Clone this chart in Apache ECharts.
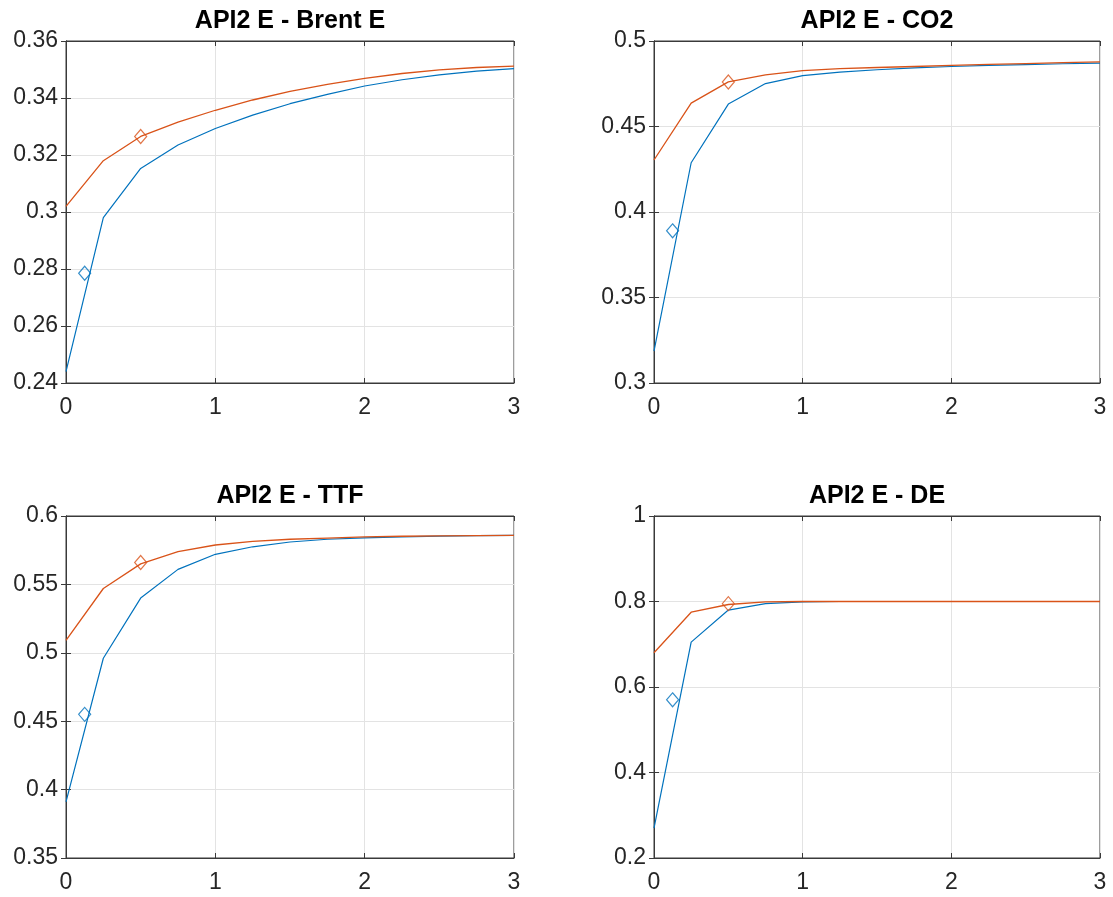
<!DOCTYPE html>
<html>
<head>
<meta charset="utf-8">
<script src="https://cdn.jsdelivr.net/npm/echarts@6/dist/echarts.min.js"></script>
<style>
html,body{margin:0;padding:0;background:#fff;}
#main{width:1113px;height:897px;}
</style>
</head>
<body>
<div id="main"></div>
<script>
// ---- data ----
const maturities = [0, 0.25, 0.5, 0.75, 1, 1.25, 1.5, 1.75, 2, 2.25, 2.5, 2.75, 3];
const xTicks = [0, 1, 2, 3];

const titles = ['API2 E - Brent E', 'API2 E - CO2', 'API2 E - TTF', 'API2 E - DE'];

const brentBlue   = [0.244, 0.298, 0.3153, 0.3235, 0.3293, 0.3340, 0.3380, 0.3413, 0.3442, 0.3464, 0.3481, 0.3494, 0.3503];
const brentOrange = [0.302, 0.318, 0.3265, 0.3315, 0.3357, 0.3393, 0.3423, 0.3448, 0.3469, 0.3486, 0.3499, 0.3507, 0.3512];
const co2Blue     = [0.3186, 0.4288, 0.4631, 0.4751, 0.4798, 0.4818, 0.4832, 0.4843, 0.4851, 0.4857, 0.4862, 0.4867, 0.4871];
const co2Orange   = [0.4304, 0.4637, 0.4761, 0.4802, 0.4827, 0.4838, 0.4845, 0.4851, 0.4857, 0.4863, 0.4868, 0.4873, 0.4878];
const ttfBlue     = [0.391, 0.496, 0.540, 0.561, 0.572, 0.5775, 0.581, 0.583, 0.584, 0.5848, 0.5853, 0.5856, 0.5858];
const ttfOrange   = [0.509, 0.547, 0.565, 0.574, 0.5788, 0.5815, 0.583, 0.5839, 0.5847, 0.5852, 0.5855, 0.5857, 0.5859];
const deBlue      = [0.270, 0.705, 0.780, 0.795, 0.799, 0.800, 0.800, 0.800, 0.800, 0.800, 0.800, 0.800, 0.800];
const deOrange    = [0.680, 0.775, 0.793, 0.799, 0.800, 0.800, 0.800, 0.800, 0.800, 0.800, 0.800, 0.800, 0.800];

// single highlighted points [x, y]
const brentBlueMark = [0.125, 0.2785], brentOrangeMark = [0.5, 0.3265];
const co2BlueMark   = [0.125, 0.389],  co2OrangeMark   = [0.5, 0.476];
const ttfBlueMark   = [0.125, 0.455],  ttfOrangeMark   = [0.5, 0.566];
const deBlueMark    = [0.125, 0.570],  deOrangeMark    = [0.5, 0.795];

const yMins = [0.24, 0.30, 0.35, 0.2];
const yMaxs = [0.36, 0.50, 0.60, 1.0];
const yIntervals = [0.02, 0.05, 0.05, 0.2];

// ---- chart ----
const BLUE = '#0072BD', ORANGE = '#D95319';
const FONT = 'Arial, "Liberation Sans", sans-serif';
const AX = '#3a3a3a', TXT = '#262626', GRIDC = '#e3e3e3';

const panels = [
  {blue: brentBlue, orange: brentOrange, bm: brentBlueMark, om: brentOrangeMark},
  {blue: co2Blue, orange: co2Orange, bm: co2BlueMark, om: co2OrangeMark},
  {blue: ttfBlue, orange: ttfOrange, bm: ttfBlueMark, om: ttfOrangeMark},
  {blue: deBlue, orange: deOrange, bm: deBlueMark, om: deOrangeMark}
];
const boxes = [
  {left: 66, top: 41, width: 448, height: 342},
  {left: 654, top: 41, width: 446, height: 342},
  {left: 66, top: 516, width: 448, height: 342},
  {left: 654, top: 516, width: 446, height: 342}
];

const grid = [], xAxis = [], yAxis = [], series = [], graphic = [];
const fmt = v => String(+(+v).toFixed(4));

boxes.forEach((b, i) => {
  grid.push({left: b.left, top: b.top, width: b.width, height: b.height,
    show: true, borderColor: AX, borderWidth: 1, backgroundColor: '#fff', containLabel: false});
  xAxis.push({gridIndex: i, type: 'value', position: 'bottom', min: 0, max: 3, interval: 1,
    axisLine: {show: true, lineStyle: {color: AX, width: 1}},
    axisTick: {show: true, inside: true, length: 5, lineStyle: {color: AX}},
    axisLabel: {color: TXT, fontSize: 23, fontFamily: FONT, margin: 13, formatter: fmt},
    splitLine: {show: true, lineStyle: {color: GRIDC, width: 1}}});
  xAxis.push({gridIndex: i, type: 'value', position: 'top', min: 0, max: 3, interval: 1,
    axisLine: {show: true, lineStyle: {color: AX, width: 1}},
    axisTick: {show: true, inside: true, length: 5, lineStyle: {color: AX}},
    axisLabel: {show: false}, splitLine: {show: false}});
  yAxis.push({gridIndex: i, type: 'value', position: 'left',
    min: yMins[i], max: yMaxs[i], interval: yIntervals[i],
    axisLine: {show: true, lineStyle: {color: AX, width: 1}},
    axisTick: {show: true, inside: true, length: 5, lineStyle: {color: AX}},
    axisLabel: {color: TXT, fontSize: 23, fontFamily: FONT, margin: 8, formatter: fmt},
    splitLine: {show: true, lineStyle: {color: GRIDC, width: 1}}});
  yAxis.push({gridIndex: i, type: 'value', position: 'right',
    min: yMins[i], max: yMaxs[i], interval: yIntervals[i],
    axisLine: {show: true, lineStyle: {color: AX, width: 1}},
    axisTick: {show: true, inside: true, length: 5, lineStyle: {color: AX}},
    axisLabel: {show: false}, splitLine: {show: false}});

  const p = panels[i];
  const xi = i * 2, yi = i * 2;
  series.push({type: 'line', xAxisIndex: xi, yAxisIndex: yi, showSymbol: false, symbol: 'none',
    data: maturities.map((m, k) => [m, p.blue[k]]), lineStyle: {color: BLUE, width: 1.2},
    itemStyle: {color: BLUE}, animation: false, z: 3});
  series.push({type: 'line', xAxisIndex: xi, yAxisIndex: yi, showSymbol: false, symbol: 'none',
    data: maturities.map((m, k) => [m, p.orange[k]]), lineStyle: {color: ORANGE, width: 1.3},
    itemStyle: {color: ORANGE}, animation: false, z: 4});
  series.push({type: 'scatter', xAxisIndex: xi, yAxisIndex: yi, symbol: 'diamond', symbolSize: [12, 14],
    data: [p.bm], itemStyle: {color: 'rgba(0,0,0,0)', borderColor: BLUE, borderWidth: 1.2},
    animation: false, z: 5});
  series.push({type: 'scatter', xAxisIndex: xi, yAxisIndex: yi, symbol: 'diamond', symbolSize: [12, 14],
    data: [p.om], itemStyle: {color: 'rgba(0,0,0,0)', borderColor: ORANGE, borderWidth: 1.2},
    animation: false, z: 5});

  graphic.push({type: 'text', x: b.left + b.width / 2, y: b.top - 20,
    style: {text: titles[i], fill: '#000', font: 'bold 25px ' + FONT, textAlign: 'center', textVerticalAlign: 'middle'}});
});

const chart = echarts.init(document.getElementById('main'), null, {renderer: 'canvas'});
chart.setOption({
  animation: false,
  backgroundColor: '#fff',
  grid, xAxis, yAxis, series, graphic
});
</script>
</body>
</html>
